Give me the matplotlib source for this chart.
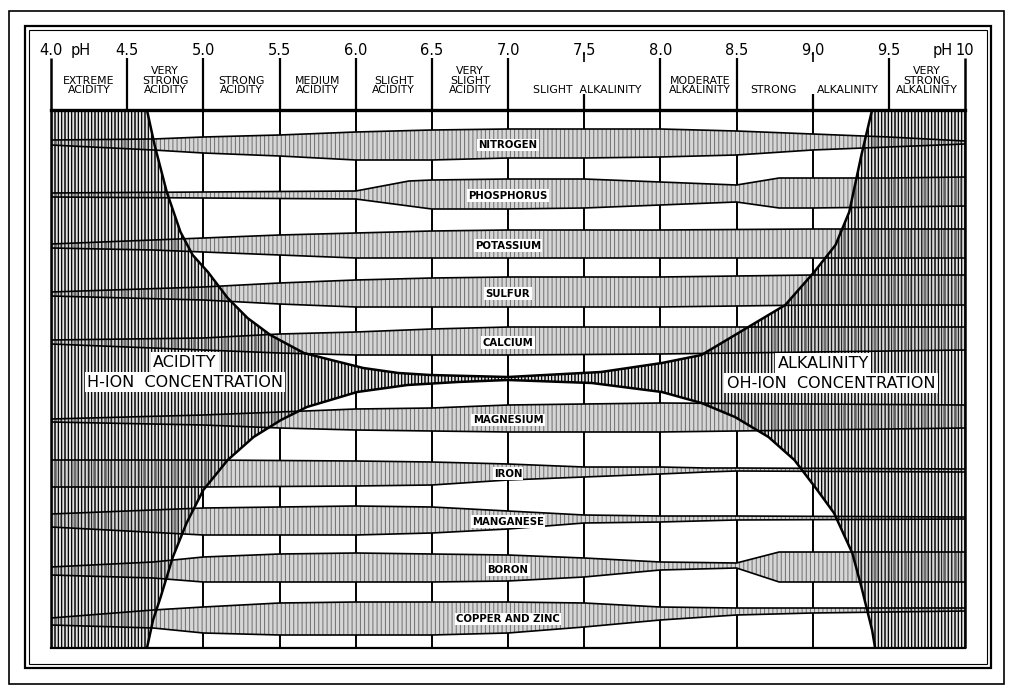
import numpy as np
import matplotlib.pyplot as plt
from matplotlib.patches import Polygon, Rectangle

plt.rcParams['font.family'] = ['DejaVu Sans']
plt.rcParams['hatch.linewidth'] = 0.7

# pH scale along the header
ph_ticks = [4.0, 4.5, 5.0, 5.5, 6.0, 6.5, 7.0, 7.5, 8.0, 8.5, 9.0, 9.5, 10.0]
ph_tick_labels = ['4.0', '4.5', '5.0', '5.5', '6.0', '6.5', '7.0', '7.5', '8.0', '8.5', '9.0', '9.5', '10']

# reaction classes written under the scale
class_labels = ['EXTREME\nACIDITY', 'VERY\nSTRONG\nACIDITY', 'STRONG\nACIDITY', 'MEDIUM\nACIDITY',
                'SLIGHT\nACIDITY', 'VERY\nSLIGHT\nACIDITY', 'SLIGHT  ALKALINITY', 'MODERATE\nALKALINITY',
                'STRONG', 'ALKALINITY', 'VERY\nSTRONG\nALKALINITY']
class_ph = [4.25, 4.75, 5.25, 5.75, 6.25, 6.75, 7.52, 8.26, 8.74, 9.23, 9.75]

# nutrient bands: pH, upper edge, lower edge (chart rows, 110 = top, 648 = bottom)
nitrogen_ph = [4.0, 4.67, 5.0, 5.5, 6.0, 6.5, 7.0, 7.5, 8.0, 8.5, 9.0, 9.5, 10.0]
nitrogen_top = [140, 139, 137, 135, 132, 130, 129, 129, 129, 131, 134, 137, 141]
nitrogen_bot = [145, 150, 153, 156, 160, 160, 158, 158, 157, 155, 150, 147, 144]

phosphorus_ph = [4.0, 5.0, 6.0, 6.35, 6.5, 7.0, 7.5, 8.0, 8.5, 8.78, 9.0, 9.5, 10.0]
phosphorus_top = [193, 192, 191, 181, 180, 179, 179, 182, 185, 178, 178, 178, 177]
phosphorus_bot = [197, 198, 199, 206, 209, 209, 208, 205, 202, 208, 208, 207, 206]

potassium_ph = [4.0, 4.67, 5.0, 5.5, 6.0, 6.5, 7.0, 8.0, 9.0, 10.0]
potassium_top = [244, 240, 238, 235, 233, 231, 230, 230, 229, 229]
potassium_bot = [248, 250, 252, 255, 258, 258, 258, 258, 258, 258]

sulfur_ph = [4.0, 5.0, 5.5, 6.0, 6.5, 7.0, 8.0, 9.0, 10.0]
sulfur_top = [292, 287, 283, 280, 278, 277, 277, 275, 275]
sulfur_bot = [296, 300, 304, 307, 307, 307, 307, 305, 305]

calcium_ph = [4.0, 5.0, 5.5, 6.0, 6.5, 7.0, 8.0, 9.0, 10.0]
calcium_top = [340, 338, 334, 332, 329, 327, 327, 327, 327]
calcium_bot = [344, 350, 353, 355, 355, 355, 354, 352, 350]

magnesium_ph = [4.0, 5.0, 5.5, 6.0, 6.5, 7.0, 8.0, 9.0, 10.0]
magnesium_top = [419, 415, 412, 409, 408, 405, 403, 404, 405]
magnesium_bot = [422, 425, 428, 430, 431, 432, 432, 430, 428]

iron_ph = [4.0, 5.0, 6.0, 6.5, 7.0, 7.5, 8.0, 8.3, 8.5, 10.0]
iron_top = [460, 460, 461, 462, 464, 467, 467, 468, 468, 469]
iron_bot = [487, 487, 486, 485, 480, 477, 474, 472, 471, 472]

manganese_ph = [4.0, 4.5, 5.0, 5.5, 6.0, 6.5, 7.0, 7.5, 8.0, 8.5, 10.0]
manganese_top = [514, 511, 508, 507, 506, 507, 511, 515, 516, 516, 517]
manganese_bot = [527, 531, 535, 535, 535, 533, 529, 523, 522, 520, 519]

boron_ph = [4.0, 4.67, 5.0, 5.5, 6.0, 6.5, 7.0, 7.5, 8.0, 8.5, 8.78, 9.0, 10.0]
boron_top = [567, 562, 557, 554, 553, 554, 555, 558, 562, 563, 552, 552, 552]
boron_bot = [575, 578, 582, 582, 582, 582, 581, 577, 570, 568, 582, 582, 582]

copper_zinc_ph = [4.0, 4.67, 5.0, 5.5, 6.0, 6.5, 7.0, 7.5, 8.0, 8.5, 9.0, 9.5, 10.0]
copper_zinc_top = [618, 610, 607, 603, 602, 602, 602, 603, 607, 608, 608, 608, 608]
copper_zinc_bot = [625, 628, 633, 635, 635, 635, 633, 627, 620, 615, 613, 612, 611]

# boundary of H-ion / OH-ion regions
upper_curve_ph = [4.63, 4.68, 4.76, 4.85, 4.93, 5.03, 5.16, 5.29, 5.44, 5.66, 5.84, 6.05, 6.28, 6.49, 7.0,
                  7.61, 8.01, 8.27, 8.49, 8.71, 8.82, 9.01, 9.15, 9.24, 9.32, 9.39]
upper_curve_row = [110, 145, 192, 232, 255, 272, 298, 318, 335, 353, 360, 368, 373, 375, 377,
                   372, 363, 355, 335, 315, 305, 272, 245, 212, 155, 110]
lower_curve_ph = [4.63, 4.67, 4.72, 4.80, 4.89, 5.0, 5.16, 5.33, 5.51, 5.68, 6.01, 6.34, 6.67, 7.0,
                  7.55, 8.01, 8.27, 8.49, 8.71, 8.88, 9.03, 9.14, 9.26, 9.32, 9.39, 9.41]
lower_curve_row = [648, 620, 597, 557, 523, 490, 460, 437, 420, 407, 392, 385, 382, 380,
                   383, 392, 403, 417, 437, 460, 490, 513, 553, 587, 630, 648]

bands = [('NITROGEN', nitrogen_ph, nitrogen_top, nitrogen_bot),
         ('PHOSPHORUS', phosphorus_ph, phosphorus_top, phosphorus_bot),
         ('POTASSIUM', potassium_ph, potassium_top, potassium_bot),
         ('SULFUR', sulfur_ph, sulfur_top, sulfur_bot),
         ('CALCIUM', calcium_ph, calcium_top, calcium_bot),
         ('MAGNESIUM', magnesium_ph, magnesium_top, magnesium_bot),
         ('IRON', iron_ph, iron_top, iron_bot),
         ('MANGANESE', manganese_ph, manganese_top, manganese_bot),
         ('BORON', boron_ph, boron_top, boron_bot),
         ('COPPER AND ZINC', copper_zinc_ph, copper_zinc_top, copper_zinc_bot)]

W, H = 1024, 700
fig = plt.figure(figsize=(W / 100, H / 100), dpi=100)
fig.patch.set_facecolor('white')

# page frames (figure pixels)
def frame(x0, y0, x1, y1, lw):
    fig.add_artist(Rectangle((x0 / W, 1 - y1 / H), (x1 - x0) / W, (y1 - y0) / H,
                             transform=fig.transFigure, fill=False, ec='black', lw=lw))

frame(9, 11, 1004, 684, 1.2)
frame(25, 26, 991, 668, 1.6)
frame(29, 30, 987, 664, 0.8)

ax = fig.add_axes([51 / W, 1 - 648 / H, 914 / W, 538 / H])
ax.set_xlim(4, 10)
ax.set_ylim(648, 110)
ax.set_xticks([])
ax.set_yticks([])
for side in ['left', 'right']:
    ax.spines[side].set_visible(False)
ax.spines['top'].set_linewidth(2.4)
ax.spines['bottom'].set_linewidth(1.6)

# grid of half-pH columns
ax.vlines(ph_ticks[1:-1], 110, 648, color='black', lw=1.4, zorder=1)

# acid and alkaline regions (outline from the two boundary curves)
up_ph = np.array(upper_curve_ph)
up_row = np.array(upper_curve_row)
lo_ph = np.array(lower_curve_ph)
lo_row = np.array(lower_curve_row)
left = up_ph <= 7.0
right = up_ph >= 7.0
lleft = lo_ph <= 7.0
lright = lo_ph >= 7.0
acid = ([(4.0, 110)] + list(zip(up_ph[left], up_row[left]))
        + list(zip(lo_ph[lleft][::-1], lo_row[lleft][::-1])) + [(4.0, 648)])
alk = (list(zip(up_ph[right], up_row[right])) + [(10.0, 110), (10.0, 648)]
       + list(zip(lo_ph[lright][::-1], lo_row[lright][::-1])))
# solid layer hides the grid, second layer shades the bands inside the regions
for verts in (acid, alk):
    ax.add_patch(Polygon(verts, closed=True, fc='#e2e2e2', ec='black', lw=0,
                         hatch='|||||', zorder=2))

# nutrient bands
for name, ph, top, bot in bands:
    verts = list(zip(ph, top)) + list(zip(ph[::-1], bot[::-1]))
    ax.add_patch(Polygon(verts, closed=True, fc='#d6d6d6', ec='#6e6e6e', lw=0,
                         hatch='||||', zorder=3))
    ax.plot(ph, top, color='black', lw=1.2, zorder=5)
    ax.plot(ph, bot, color='black', lw=1.2, zorder=5)
    mid = (np.interp(7.0, ph, top) + np.interp(7.0, ph, bot)) / 2
    ax.text(7.0, mid + 1.5, name, ha='center', va='center', fontsize=7.3, fontweight='bold',
            bbox=dict(boxstyle='square,pad=0.12', fc='white', ec='none'), zorder=8)

for verts in (acid, alk):
    ax.add_patch(Polygon(verts, closed=True, fc='none', ec='black', lw=0,
                         hatch='|||||', zorder=4))
ax.plot(up_ph, up_row, color='black', lw=1.8, zorder=6)
ax.plot(lo_ph, lo_row, color='black', lw=1.8, zorder=6)

box = dict(boxstyle='square,pad=0.15', fc='white', ec='none')
ax.text(4.88, 362, 'ACIDITY', ha='center', va='center', fontsize=11.5, bbox=box, zorder=8)
ax.text(4.88, 382, 'H-ION  CONCENTRATION', ha='center', va='center', fontsize=11.5, bbox=box, zorder=8)
ax.text(9.07, 363, 'ALKALINITY', ha='center', va='center', fontsize=11.5, bbox=box, zorder=8)
ax.text(9.12, 383, 'OH-ION  CONCENTRATION', ha='center', va='center', fontsize=11.5, bbox=box, zorder=8)

# header: scale and reaction classes
ax.vlines([4.0, 10.0], 58, 648, color='black', lw=1.8, clip_on=False, zorder=7)
for p in ph_ticks[1:-1]:
    if p in (7.5, 9.0):
        ax.vlines(p, 52, 62, color='black', lw=1.2, clip_on=False)
        ax.vlines(p, 94, 110, color='black', lw=1.6, clip_on=False)
    else:
        ax.vlines(p, 58, 110, color='black', lw=1.6, clip_on=False)
for p, lab in zip(ph_ticks, ph_tick_labels):
    ax.text(p, 50, lab, ha='center', va='center', fontsize=10.5)
ax.text(4.13, 50, 'pH', ha='left', va='center', fontsize=10.5)
ax.text(9.92, 50, 'pH', ha='right', va='center', fontsize=10.5)
for p, lab in zip(class_ph, class_labels):
    ax.text(p, 95, lab, ha='center', va='bottom', fontsize=7.8, linespacing=0.92,
            multialignment='center')

fig.savefig('out.png', dpi=100, facecolor='white')
